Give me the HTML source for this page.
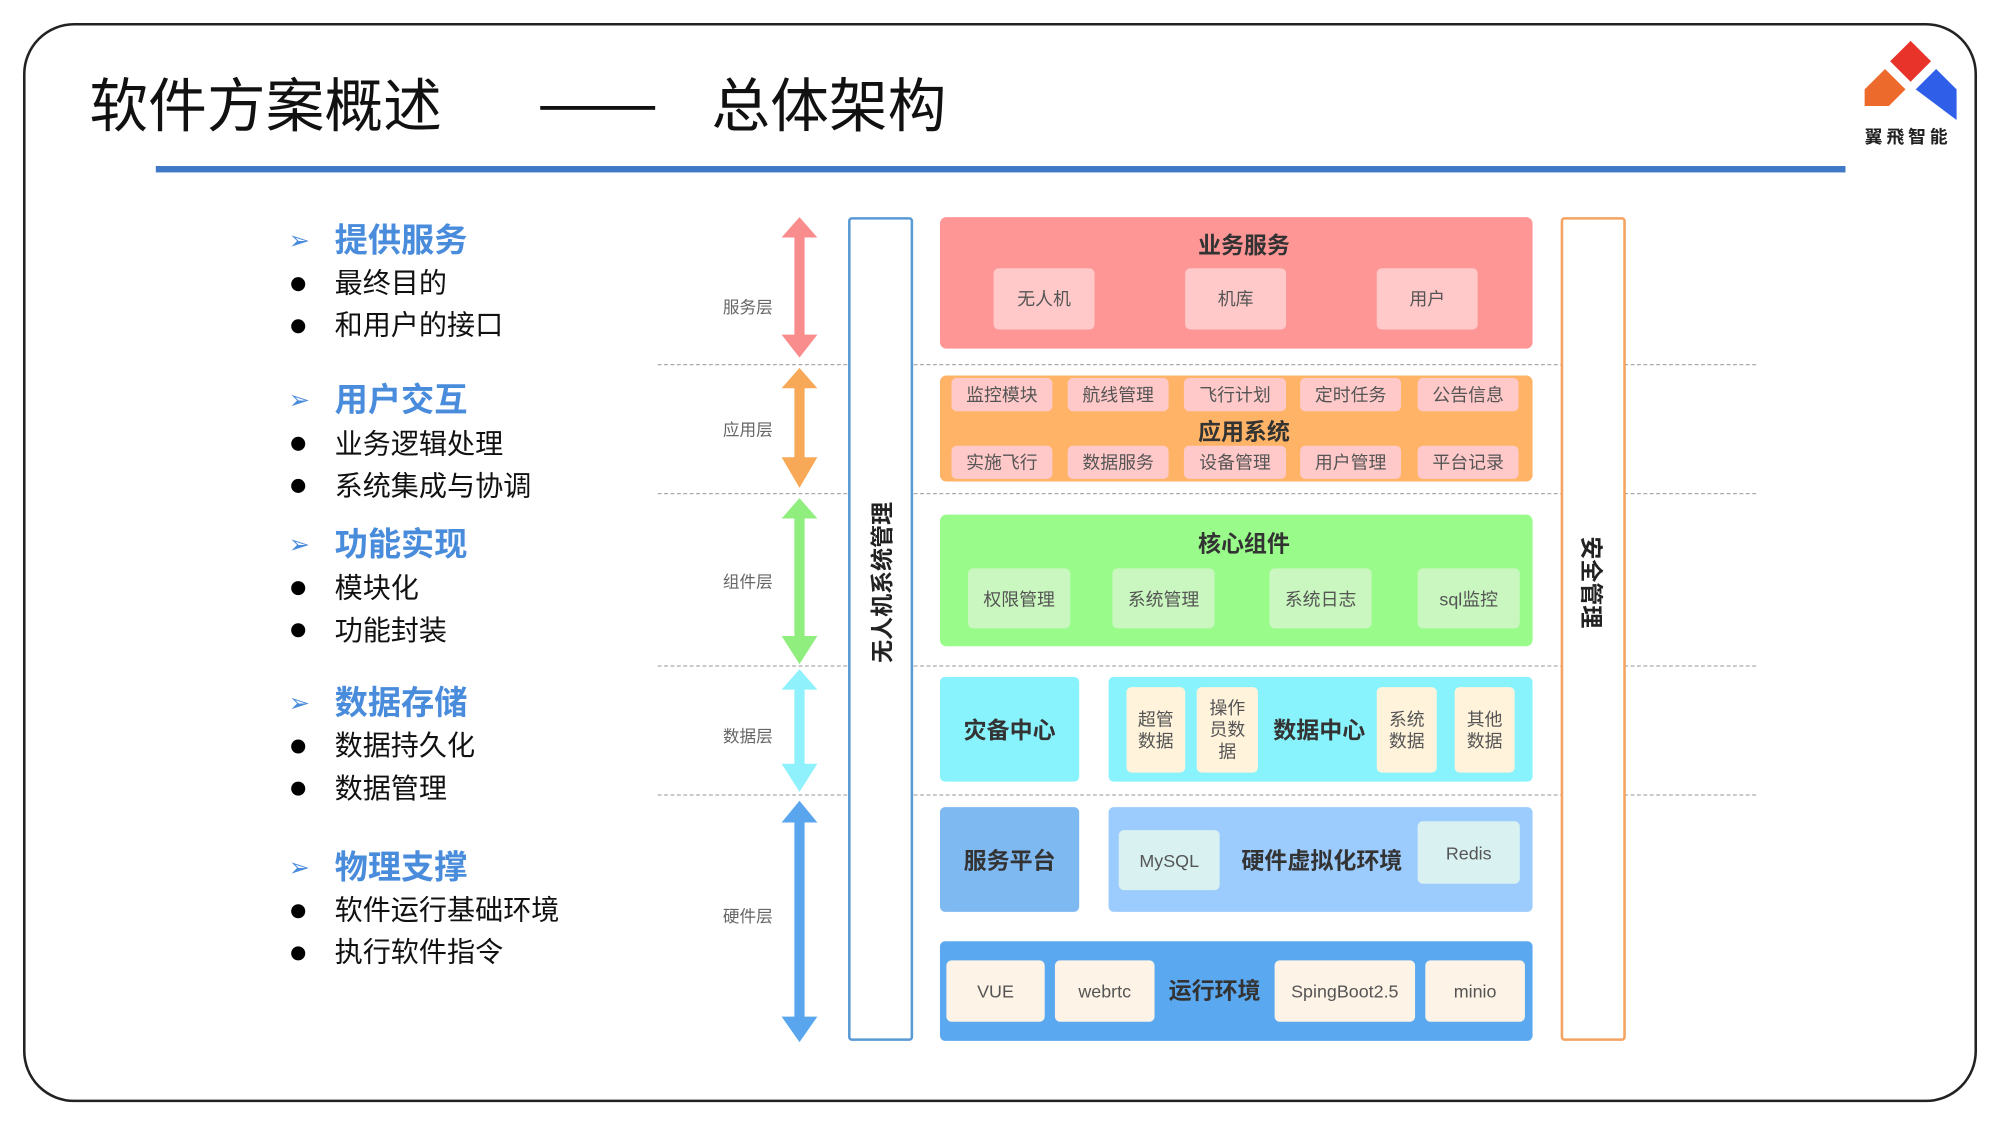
<!DOCTYPE html>
<html><head><meta charset="utf-8">
<style>
html,body{margin:0;padding:0;background:#fff;}
body{width:2000px;height:1125px;overflow:hidden;}
#w{position:absolute;left:0;top:0;width:1566px;height:881px;transform:scale(1.27714);transform-origin:0 0;font-family:"Liberation Sans","Noto Sans CJK SC",sans-serif;}
.a{position:absolute;}
.b{position:absolute;box-sizing:border-box;display:flex;align-items:center;justify-content:center;text-align:center;}
.t{font-weight:bold;font-size:18px;color:#333;}
.s{font-size:14px;color:#555;border-radius:4px;}
.hd{position:absolute;left:262px;font-size:26px;font-weight:bold;color:#4a8cdc;line-height:30px;}
.ar{position:absolute;left:226px;font-size:20px;color:#4a8cdc;line-height:30px;}
.it{position:absolute;left:262px;font-size:22px;color:#111;line-height:28px;}
.dot{position:absolute;left:228px;width:11px;height:11px;border-radius:50%;background:#000;}
.ly{position:absolute;left:566px;font-size:13px;color:#666;line-height:16px;}
.dl{position:absolute;left:515px;width:860px;border-top:1.5px dashed #aaa;}
.ti{position:absolute;top:55px;font-size:46px;color:#111;line-height:56px;white-space:nowrap;}
</style></head><body><div id="w">
<div class="a" style="left:18px;top:18px;width:1530px;height:845px;border:2px solid #222;border-radius:40px;box-sizing:border-box;"></div>
<div class="ti" style="left:70px;">软件方案概述</div>
<div class="a" style="left:423px;top:83px;width:90px;height:3px;background:#111;"></div>
<div class="ti" style="left:557px;">总体架构</div>
<div class="a" style="left:122px;top:130px;width:1323px;height:5px;background:#3f78c4;"></div>
<svg class="a" style="left:1455px;top:28px" width="85" height="70" viewBox="0 0 85 70">
<polygon points="41,4 57,20 41,36 25,20" fill="#e8332a"/>
<polygon points="5,42 21,26 37,42 24,55 5,55" fill="#ec6a2c"/>
<polygon points="45,42 61,26 77,42 77,66 " fill="#2f5fe8"/>
</svg>
<div class="a" style="left:1460px;top:97px;font-size:14px;font-weight:bold;letter-spacing:3px;color:#222;">翼飛智能</div>

<div class="ar" style="top:174px">➢</div><div class="hd" style="top:173px">提供服务</div>
<div class="dot" style="top:217px"></div><div class="it" style="top:208px">最终目的</div>
<div class="dot" style="top:250px"></div><div class="it" style="top:241px">和用户的接口</div>
<div class="ar" style="top:299px">➢</div><div class="hd" style="top:298px">用户交互</div>
<div class="dot" style="top:342px"></div><div class="it" style="top:334px">业务逻辑处理</div>
<div class="dot" style="top:375px"></div><div class="it" style="top:367px">系统集成与协调</div>
<div class="ar" style="top:412px">➢</div><div class="hd" style="top:411px">功能实现</div>
<div class="dot" style="top:455px"></div><div class="it" style="top:447px">模块化</div>
<div class="dot" style="top:488px"></div><div class="it" style="top:480px">功能封装</div>
<div class="ar" style="top:536px">➢</div><div class="hd" style="top:535px">数据存储</div>
<div class="dot" style="top:579px"></div><div class="it" style="top:570px">数据持久化</div>
<div class="dot" style="top:612px"></div><div class="it" style="top:604px">数据管理</div>
<div class="ar" style="top:665px">➢</div><div class="hd" style="top:664px">物理支撑</div>
<div class="dot" style="top:708px"></div><div class="it" style="top:699px">软件运行基础环境</div>
<div class="dot" style="top:741px"></div><div class="it" style="top:732px">执行软件指令</div>

<div class="ly" style="top:233px">服务层</div>
<div class="ly" style="top:329px">应用层</div>
<div class="ly" style="top:448px">组件层</div>
<div class="ly" style="top:569px">数据层</div>
<div class="ly" style="top:710px">硬件层</div>

<div class="dl" style="top:285px"></div>
<div class="dl" style="top:386px"></div>
<div class="dl" style="top:521px"></div>
<div class="dl" style="top:622px"></div>

<svg class="a" style="left:606px;top:166px" width="40" height="656">
<g>
<polygon points="20,4 34,20 24,20 24,96 34,96 20,114 6,96 16,96 16,20 6,20" fill="#f98c8c"/>
<polygon points="20,122 34,138 24,138 24,192 34,192 20,216 6,192 16,192 16,138 6,138" fill="#f7a958"/>
<polygon points="20,224 34,240 24,240 24,332 34,332 20,354 6,332 16,332 16,240 6,240" fill="#8fee7e"/>
<polygon points="20,358 34,374 24,374 24,432 34,432 20,454 6,432 16,432 16,374 6,374" fill="#8ef1fb"/>
<polygon points="20,461 34,478 24,478 24,630 34,630 20,650 6,630 16,630 16,478 6,478" fill="#5aa6ee"/>
</g></svg>

<div class="a" style="left:664px;top:170px;width:51px;height:645px;border:2px solid #5b9bd5;border-radius:3px;box-sizing:border-box;background:#fff;"></div>
<div class="b t" style="left:540px;top:444px;width:300px;height:24px;transform:rotate(-90deg);color:#222;">无人机系统管理</div>
<div class="a" style="left:1222px;top:170px;width:51px;height:645px;border:2px solid #f4a460;border-radius:3px;box-sizing:border-box;background:#fff;"></div>
<div class="b t" style="left:1097px;top:444px;width:300px;height:24px;transform:rotate(90deg);color:#222;">安全管理</div>

<div class="a" style="left:736px;top:170px;width:464px;height:103px;background:#fe9696;border-radius:5px;"></div>
<div class="b t" style="left:736px;top:179px;width:476px;height:24px;">业务服务</div>
<div class="b s" style="left:778px;top:210px;width:79px;height:48px;background:#ffc9c9;">无人机</div>
<div class="b s" style="left:928px;top:210px;width:79px;height:48px;background:#ffc9c9;">机库</div>
<div class="b s" style="left:1078px;top:210px;width:79px;height:48px;background:#ffc9c9;">用户</div>

<div class="a" style="left:736px;top:294px;width:464px;height:83px;background:#ffb366;border-radius:5px;"></div>
<div class="b s" style="left:745px;top:296px;width:79px;height:26px;background:#ffc9c9;">监控模块</div>
<div class="b s" style="left:836px;top:296px;width:79px;height:26px;background:#ffc9c9;">航线管理</div>
<div class="b s" style="left:927px;top:296px;width:80px;height:26px;background:#ffc9c9;">飞行计划</div>
<div class="b s" style="left:1018px;top:296px;width:79px;height:26px;background:#ffc9c9;">定时任务</div>
<div class="b s" style="left:1110px;top:296px;width:79px;height:26px;background:#ffc9c9;">公告信息</div>
<div class="b t" style="left:736px;top:325px;width:476px;height:24px;">应用系统</div>
<div class="b s" style="left:745px;top:349px;width:79px;height:26px;background:#ffc9c9;">实施飞行</div>
<div class="b s" style="left:836px;top:349px;width:79px;height:26px;background:#ffc9c9;">数据服务</div>
<div class="b s" style="left:927px;top:349px;width:80px;height:26px;background:#ffc9c9;">设备管理</div>
<div class="b s" style="left:1018px;top:349px;width:79px;height:26px;background:#ffc9c9;">用户管理</div>
<div class="b s" style="left:1110px;top:349px;width:79px;height:26px;background:#ffc9c9;">平台记录</div>

<div class="a" style="left:736px;top:403px;width:464px;height:103px;background:#99fb8a;border-radius:5px;"></div>
<div class="b t" style="left:736px;top:413px;width:476px;height:24px;">核心组件</div>
<div class="b s" style="left:758px;top:445px;width:80px;height:47px;background:#c9f7bf;">权限管理</div>
<div class="b s" style="left:871px;top:445px;width:80px;height:47px;background:#c9f7bf;">系统管理</div>
<div class="b s" style="left:994px;top:445px;width:80px;height:47px;background:#c9f7bf;">系统日志</div>
<div class="b s" style="left:1110px;top:445px;width:80px;height:47px;background:#c9f7bf;">sql监控</div>

<div class="b t" style="left:736px;top:530px;width:109px;height:82px;background:#88f3fd;border-radius:4px;">灾备中心</div>
<div class="a" style="left:868px;top:530px;width:332px;height:82px;background:#88f3fd;border-radius:4px;"></div>
<div class="b s" style="left:882px;top:538px;width:46px;height:67px;background:#fff3dc;line-height:17px;">超管<br>数据</div>
<div class="b s" style="left:937px;top:538px;width:48px;height:67px;background:#fff3dc;line-height:17px;">操作<br>员数<br>据</div>
<div class="b t" style="left:990px;top:558px;width:86px;height:26px;">数据中心</div>
<div class="b s" style="left:1078px;top:538px;width:47px;height:67px;background:#fff3dc;line-height:17px;">系统<br>数据</div>
<div class="b s" style="left:1139px;top:538px;width:47px;height:67px;background:#fff3dc;line-height:17px;">其他<br>数据</div>

<div class="b t" style="left:736px;top:632px;width:109px;height:82px;background:#7fb9f2;border-radius:4px;">服务平台</div>
<div class="a" style="left:868px;top:632px;width:332px;height:82px;background:#9ccbfd;border-radius:4px;"></div>
<div class="b s" style="left:876px;top:650px;width:79px;height:47px;background:#d9f1f1;">MySQL</div>
<div class="b t" style="left:962px;top:660px;width:146px;height:26px;">硬件虚拟化环境</div>
<div class="b s" style="left:1110px;top:643px;width:80px;height:49px;background:#d9f1f1;">Redis</div>

<div class="a" style="left:736px;top:737px;width:464px;height:78px;background:#5aa8f0;border-radius:4px;"></div>
<div class="b s" style="left:741px;top:752px;width:77px;height:48px;background:#fdf3e6;">VUE</div>
<div class="b s" style="left:826px;top:752px;width:78px;height:48px;background:#fdf3e6;">webrtc</div>
<div class="b t" style="left:908px;top:762px;width:86px;height:26px;">运行环境</div>
<div class="b s" style="left:998px;top:752px;width:110px;height:48px;background:#fdf3e6;">SpingBoot2.5</div>
<div class="b s" style="left:1116px;top:752px;width:78px;height:48px;background:#fdf3e6;">minio</div>
</div></body></html>
